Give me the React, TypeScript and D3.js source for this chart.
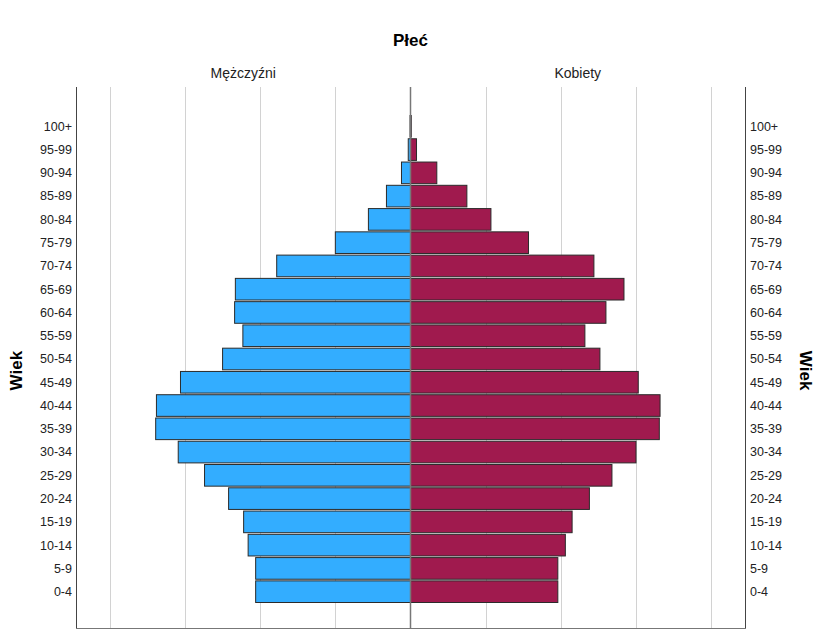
import React, { useRef, useEffect } from "react";
import * as d3 from "d3";

// age groups, bottom to top
const ageGroups = [
  "0-4", "5-9", "10-14", "15-19", "20-24", "25-29", "30-34", "35-39", "40-44",
  "45-49", "50-54", "55-59", "60-64", "65-69", "70-74", "75-79", "80-84",
  "85-89", "90-94", "95-99", "100+"
];

// values in grid units (one grid line = 1)
const males = [
  2.06, 2.06, 2.16, 2.22, 2.42, 2.74, 3.09, 3.39, 3.38,
  3.06, 2.50, 2.23, 2.34, 2.33, 1.78, 1.00, 0.56,
  0.32, 0.12, 0.03, 0.006
];
const females = [
  1.96, 1.96, 2.06, 2.15, 2.38, 2.68, 3.00, 3.31, 3.32,
  3.03, 2.52, 2.32, 2.60, 2.84, 2.44, 1.57, 1.07,
  0.75, 0.35, 0.08, 0.01
];

const gridTicks = [1, 2, 3, 4];
const sexLabels = ["Mężczyźni", "Kobiety"];

const App = () => {
  const svgRef = useRef<SVGSVGElement>(null);
  const width = 818;
  const height = 634;
  const frame = { left: 76, right: 745, top: 87, bottom: 628 };
  const center = 410.5;
  const maxVal = 4.45;
  const font = "'Liberation Sans', Arial, sans-serif";

  useEffect(() => {
    const svg = d3.select(svgRef.current);
    svg.selectAll("*").remove();

    const xL = d3.scaleLinear().domain([0, maxVal]).range([center, frame.left]);
    const xR = d3.scaleLinear().domain([0, maxVal]).range([center, frame.right]);
    const y = d3.scaleBand<string>()
      .domain([...ageGroups].reverse())
      .range([115.5, 602.5])
      .paddingInner(0.07);

    // grid lines
    const g = svg.append("g");
    gridTicks.forEach(t => {
      [xL(t), xR(t)].forEach(x => {
        g.append("line")
          .attr("x1", Math.round(x) + 0.5).attr("x2", Math.round(x) + 0.5)
          .attr("y1", frame.top).attr("y2", frame.bottom)
          .attr("stroke", "#d2d2d2").attr("stroke-width", 1);
      });
    });

    // bars
    ageGroups.forEach((age, i) => {
      const yy = y(age)!;
      g.append("rect")
        .attr("x", xL(males[i])).attr("y", yy)
        .attr("width", center - xL(males[i])).attr("height", y.bandwidth())
        .attr("fill", "#33adff").attr("stroke", "#2b2b2b").attr("stroke-width", 1);
      g.append("rect")
        .attr("x", center).attr("y", yy)
        .attr("width", xR(females[i]) - center).attr("height", y.bandwidth())
        .attr("fill", "#a01a4e").attr("stroke", "#2b2b2b").attr("stroke-width", 1);
    });

    // center line
    g.append("line")
      .attr("x1", center).attr("x2", center)
      .attr("y1", frame.top).attr("y2", frame.bottom)
      .attr("stroke", "#777").attr("stroke-width", 1.5);

    // frame
    g.append("line")
      .attr("x1", frame.left + 0.5).attr("x2", frame.left + 0.5)
      .attr("y1", frame.top).attr("y2", frame.bottom)
      .attr("stroke", "#444");
    g.append("line")
      .attr("x1", frame.right + 0.5).attr("x2", frame.right + 0.5)
      .attr("y1", frame.top).attr("y2", frame.bottom)
      .attr("stroke", "#444");
    g.append("line")
      .attr("x1", frame.left).attr("x2", frame.right + 1)
      .attr("y1", frame.bottom + 0.5).attr("y2", frame.bottom + 0.5)
      .attr("stroke", "#777");

    // age labels on both sides
    ageGroups.forEach(age => {
      const cy = y(age)! + y.bandwidth() / 2;
      g.append("text")
        .attr("x", frame.left - 4).attr("y", cy).attr("dy", "0.35em")
        .attr("text-anchor", "end")
        .style("font-family", font).style("font-size", "12.5px").attr("fill", "#222")
        .text(age);
      g.append("text")
        .attr("x", frame.right + 5).attr("y", cy).attr("dy", "0.35em")
        .attr("text-anchor", "start")
        .style("font-family", font).style("font-size", "12.5px").attr("fill", "#222")
        .text(age);
    });

    // panel headers
    [(frame.left + center) / 2, (center + frame.right) / 2].forEach((x, i) => {
      g.append("text")
        .attr("x", x).attr("y", 78)
        .attr("text-anchor", "middle")
        .style("font-family", font).style("font-size", "14px").attr("fill", "#222")
        .text(sexLabels[i]);
    });

    // title
    g.append("text")
      .attr("x", center).attr("y", 46)
      .attr("text-anchor", "middle")
      .style("font-family", font).style("font-size", "17px").style("font-weight", "bold")
      .text("Płeć");

    // y axis titles
    const midY = (y("40-44")! + y("55-59")! + y.bandwidth()) / 2;
    g.append("text")
      .attr("transform", `translate(22, ${midY}) rotate(-90)`)
      .attr("text-anchor", "middle")
      .style("font-family", font).style("font-size", "17px").style("font-weight", "bold")
      .text("Wiek");
    g.append("text")
      .attr("transform", `translate(800, ${midY}) rotate(90)`)
      .attr("text-anchor", "middle")
      .style("font-family", font).style("font-size", "17px").style("font-weight", "bold")
      .text("Wiek");
  }, []);

  return (
    <svg
      ref={svgRef}
      width={width}
      height={height}
      style={{ position: "absolute", top: 0, left: 0, background: "#fff" }}
    />
  );
};

export default App;
